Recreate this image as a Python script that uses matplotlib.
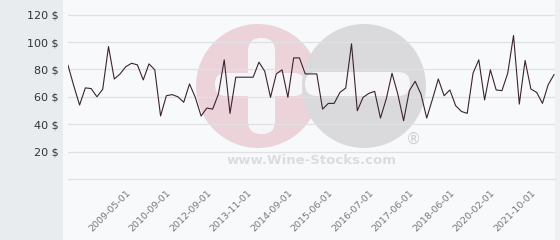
import matplotlib
matplotlib.use('Agg')
import matplotlib.pyplot as plt
from matplotlib.patches import Circle, FancyBboxPatch, Rectangle

# price per bottle, one value per category (85 points)
prices = [83, 68, 54, 66.5, 66, 60, 65.5, 96.7, 73, 76.7,
          82, 84.5, 83.3, 72.3, 84, 79.7, 46, 60.8, 61.6, 60,
          56, 69.4, 59.6, 46, 51.8, 51, 62, 87, 47.9, 74.3,
          74.3, 74.3, 74.3, 85.3, 78.7, 59.6, 76.7, 79.7, 59.6, 88.4,
          88.4, 76.7, 76.7, 76.7, 51, 55.2, 55.2, 63.2, 66.4, 98.7,
          49.8, 59.6, 62.5, 64, 44.5, 58.4, 77.2, 62, 42.5, 64.5,
          71.3, 62, 44.5, 58.4, 73, 60.8, 65, 53.5, 49.3, 47.9,
          77.2, 87, 57.7, 79.7, 65, 64.5, 77.2, 104.8, 54.7, 86.5,
          65.7, 63.2, 55.2, 68.9, 76.2]
tick_labels = ['2009-05-01', '2010-09-01', '2012-09-01', '2013-11-01', '2014-09-01',
               '2015-06-01', '2016-07-01', '2017-06-01', '2018-06-01', '2020-02-01',
               '2021-10-01']
y_ticks = [20, 40, 60, 80, 100, 120]

W, H = 560, 240
fig = plt.figure(figsize=(W / 100, H / 100), dpi=100)
fig.patch.set_facecolor('#f8f9fb')

# background layer in pixel coords: left strip + watermark
bg = fig.add_axes([0, 0, 1, 1], zorder=0)
bg.set_xlim(0, W)
bg.set_ylim(H, 0)
bg.axis('off')
bg.add_patch(Rectangle((0, 0), 63, H, color='#e8ecef', lw=0))
bg.add_patch(Rectangle((555, 0), 5, H, color='#eef0f2', lw=0))
bg.add_patch(Circle((258, 86), 62, color='#ecd3da', lw=0))
bg.add_patch(FancyBboxPatch((248, 38), 27, 96, boxstyle='round,pad=0,rounding_size=13',
                            color='#f6f6f8', lw=0))
bg.add_patch(FancyBboxPatch((215, 73), 90, 23, boxstyle='round,pad=0,rounding_size=11',
                            color='#f6f6f8', lw=0))
bg.add_patch(Circle((364, 86), 62, color='#dadadc', lw=0))
bg.add_patch(FancyBboxPatch((305, 72), 105, 24, boxstyle='round,pad=0,rounding_size=12',
                            color='#f6f6f8', lw=0))
bg.text(413, 139, '®', color='#cfcfd1', fontsize=11, ha='center', va='center')
bg.text(312, 161, 'www.Wine-Stocks.com', color='#dcdcde', fontsize=9.5,
        fontweight='bold', ha='center', va='center')

# main chart
x0, x1 = 68, 555
y_top, y_bot = 5, 179
ax = fig.add_axes([x0 / W, (H - y_bot) / H, (x1 - x0) / W, (y_bot - y_top) / H], zorder=1)
ax.set_facecolor('none')
ax.plot(range(len(prices)), prices, color='#3b2330', lw=0.8)
ax.set_xlim(0, (x1 - x0) / 5.786)
ax.set_ylim(0, (y_bot - y_top) / 1.37)

ax.set_yticks(y_ticks)
ax.set_yticklabels([f'{v} $' for v in y_ticks])
ax.grid(axis='y', color='#dfe1e4', lw=0.9)
ax.tick_params(axis='y', length=0, pad=7, labelsize=8, labelcolor='#333333')

ax.set_xticks(range(10, len(prices), 7))
ax.set_xticklabels(tick_labels, rotation=45, ha='right', va='top', rotation_mode='anchor')
ax.tick_params(axis='x', length=0, pad=7, labelsize=6.8, labelcolor='#777777')

for s in ['left', 'right', 'top']:
    ax.spines[s].set_visible(False)
ax.spines['bottom'].set_color('#dfe1e4')
ax.spines['bottom'].set_linewidth(0.9)

fig.savefig('out.png', dpi=100, facecolor=fig.get_facecolor())
